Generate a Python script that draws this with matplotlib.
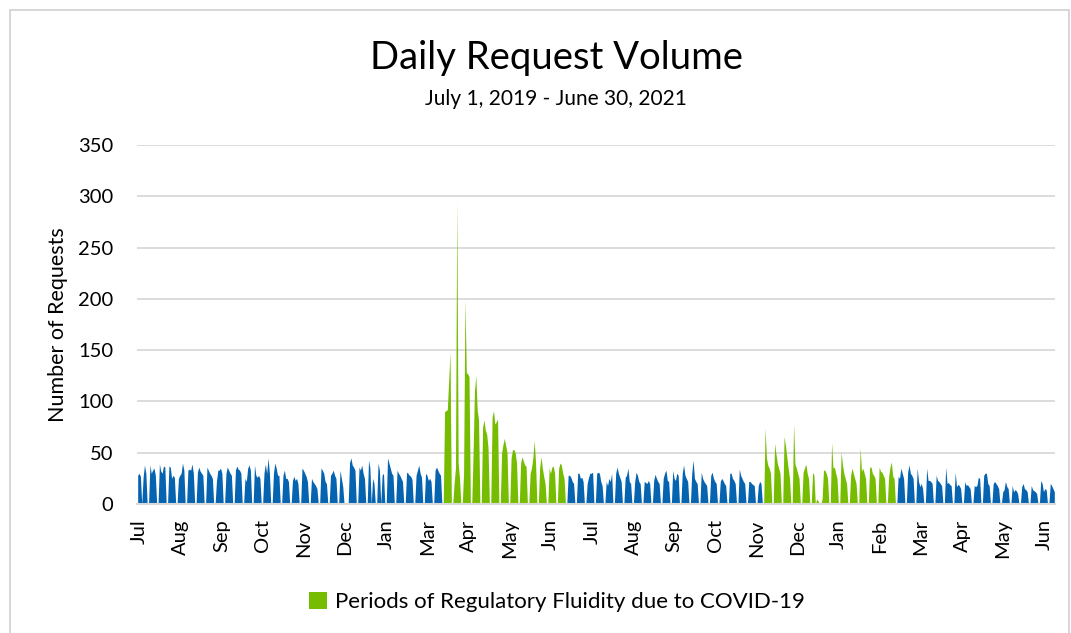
import numpy as np
import matplotlib
matplotlib.use("Agg")
import matplotlib.pyplot as plt
from matplotlib.patches import Patch, Rectangle

# ---------------- data (weekday request counts per week; weekends are 0) ----------------
blue_2019_20 = [
    [28, 30, 27, 0, 26, 38, 30], [38, 30, 33, 35, 28], [39, 32, 30, 37, 36], [37, 36, 25, 28, 26],
    [25, 28, 30, 40, 33], [33, 34, 33, 39, 30], [31, 36, 32, 30, 28], [36, 33, 30, 28, 25],
    [22, 33, 33, 35, 30], [30, 36, 33, 30, 28], [33, 37, 34, 33, 30], [25, 22, 35, 38, 33],
    [38, 28, 26, 28, 25], [30, 39, 30, 45, 30], [30, 40, 35, 28, 28], [28, 33, 25, 25, 22],
    [23, 27, 23, 25, 20], [35, 33, 30, 27, 22], [25, 22, 20, 18, 15], [35, 33, 30, 22, 20],
    [28, 30, 33, 28, 25], [33, 25, 17, 0, 0], [40, 45, 38, 36, 33], [36, 33, 38, 30, 25],
    [43, 35, 0, 25, 20], [40, 33, 0, 28, 30], [45, 40, 35, 30, 28], [33, 30, 28, 25, 22],
    [31, 30, 28, 27, 24], [28, 33, 38, 30, 26], [30, 28, 23, 25, 22], [33, 36, 33, 30, 28],
]
covid_wave_1 = [
    [90, 91, 92, 120, 148], [20, 35, 296, 40, 25], [30, 200, 128, 127, 124], [50, 110, 125, 92, 82],
    [75, 82, 72, 68, 55], [85, 91, 78, 80, 83], [50, 58, 64, 57, 50], [45, 53, 53, 50, 40],
    [40, 46, 42, 38, 37], [30, 35, 45, 62, 40], [35, 46, 35, 27, 20], [35, 30, 36, 37, 30],
    [35, 40, 38, 30, 25],
]
blue_2020 = [
    [28, 28, 26, 22, 20], [30, 30, 25, 26, 22], [20, 26, 30, 30, 31], [30, 31, 30, 22, 18],
    [22, 18, 25, 22, 30], [30, 36, 30, 26, 22], [26, 28, 35, 22, 20], [22, 31, 28, 22, 20],
    [22, 21, 20, 23, 20], [23, 29, 25, 22, 20], [25, 30, 33, 23, 22], [33, 25, 23, 30, 28],
    [30, 38, 28, 25, 22], [30, 43, 25, 22, 20], [31, 25, 22, 20, 18], [28, 31, 25, 22, 20],
    [22, 25, 23, 20, 18], [30, 30, 25, 23, 20], [34, 28, 25, 22, 20], [22, 22, 20, 19, 18],
    [18, 22, 20],
]
covid_wave_2 = [
    [74, 45, 38, 35, 30], [59, 49, 40, 35, 30], [66, 57, 46, 35, 25], [78, 39, 35, 30, 25],
    [31, 35, 39, 30, 25], [31, 28, 0, 5, 3], [5, 33, 33, 30, 25], [60, 35, 36, 30, 25],
    [51, 38, 30, 25, 20], [28, 35, 30, 25, 20], [55, 32, 35, 30, 25], [36, 36, 30, 28, 25],
    [36, 32, 31, 28, 25], [27, 36, 41, 27, 25],
]
blue_2021 = [
    [27, 25, 35, 30, 25], [31, 38, 30, 28, 25], [35, 22, 17, 20, 15], [35, 23, 23, 22, 20],
    [28, 23, 22, 20, 18], [36, 20, 21, 19, 18], [31, 17, 19, 18, 15], [22, 18, 19, 17, 15],
    [18, 17, 18, 26, 25], [28, 30, 30, 20, 18], [20, 22, 20, 18, 15], [12, 14, 22, 17, 15],
    [18, 12, 14, 13, 10], [17, 20, 15, 14, 12], [18, 14, 13, 12, 10], [23, 20, 12, 15, 14],
    [20, 18, 15, 12],
]
tick_labels = ["Jul", "Aug", "Sep", "Oct", "Nov", "Dec", "Jan", "Mar", "Apr", "May", "Jun",
               "Jul", "Aug", "Sep", "Oct", "Nov", "Dec", "Jan", "Feb", "Mar", "Apr", "May", "Jun"]
y_ticks = [0, 50, 100, 150, 200, 250, 300, 350]
legend_label = "Periods of Regulatory Fluidity due to COVID-19"

# ---------------- build daily series ----------------
segments = [(blue_2019_20, False), (covid_wave_1, True), (blue_2020, False),
            (covid_wave_2, True), (blue_2021, False)]
values, is_covid = [], []
n_blocks = sum(len(s) for s, _ in segments)
count = 0
for blocks, covid in segments:
    for wk in blocks:
        count += 1
        day_vals = list(wk) + ([] if count == n_blocks else [0, 0])
        values.extend(day_vals)
        is_covid.extend([covid] * len(day_vals))
values = np.array(values, dtype=float)
is_covid = np.array(is_covid)
N = len(values)
idx = np.arange(N)

blue_vals = np.where(is_covid, 0, values)
green_vals = np.where(is_covid, values, 0)

BLUE = "#0563B0"
GREEN = "#76BD02"
GRID = "#D9D9D9"
FONT = ["Lato", "DejaVu Sans"]
plt.rcParams["font.family"] = FONT

fig = plt.figure(figsize=(10.71, 6.33), dpi=100)
W, H = 1071, 633
AX_L, AX_R, AX_T, AX_B = 137, 1055, 145, 504
fig.patches.append(Rectangle((10 / W, -0.05), (W - 12) / W, 1.05 - 10 / H,
                             transform=fig.transFigure, fill=False,
                             edgecolor="#D0D0D0", linewidth=1.2))

ax = fig.add_axes([AX_L / W, 1 - AX_B / H, (AX_R - AX_L) / W, (AX_B - AX_T) / H])
ax.fill_between(idx, 0, blue_vals, color=BLUE, linewidth=0)
ax.fill_between(idx, 0, green_vals, color=GREEN, linewidth=0)

ax.set_xlim(-0.5, N - 0.5)
ax.set_ylim(0, 350)
ax.set_yticks(y_ticks)
ax.set_yticklabels([str(v) for v in y_ticks], fontsize=14.5, color="#000000")
ax.set_xticks(np.linspace(1.3, N * 0.9875, len(tick_labels)))
ax.set_xticklabels(tick_labels, rotation=90, fontsize=14.5, ha="center", va="top")
ax.tick_params(axis="both", length=0)
ax.tick_params(axis="x", pad=11)
ax.tick_params(axis="y", pad=24 - 7)
ax.grid(axis="y", color=GRID, linewidth=1.3)
ax.set_axisbelow(True)
for s in ["top", "right", "left"]:
    ax.spines[s].set_visible(False)
ax.spines["bottom"].set_color(GRID)
ax.spines["bottom"].set_linewidth(1.5)

ax.set_ylabel("Number of Requests", fontsize=15.5)
ax.yaxis.set_label_coords((58 - AX_L) / (AX_R - AX_L), 0.5)
ax.yaxis.label.set_verticalalignment("center")

fig.text(556 / W, 1 - 58 / H, "Daily Request Volume", ha="center", va="center",
         fontsize=27.5, fontweight="normal")
fig.text(556 / W, 1 - 99 / H, "July 1, 2019 - June 30, 2021", ha="center", va="center",
         fontsize=15)

fig.legend(handles=[Patch(facecolor=GREEN, edgecolor="none", label=legend_label)],
           loc="center", bbox_to_anchor=(557 / W, 1 - 602 / H), frameon=False,
           fontsize=16, handlelength=0.8, handleheight=0.8, handletextpad=0.35)

fig.savefig("out.png", dpi=100)
